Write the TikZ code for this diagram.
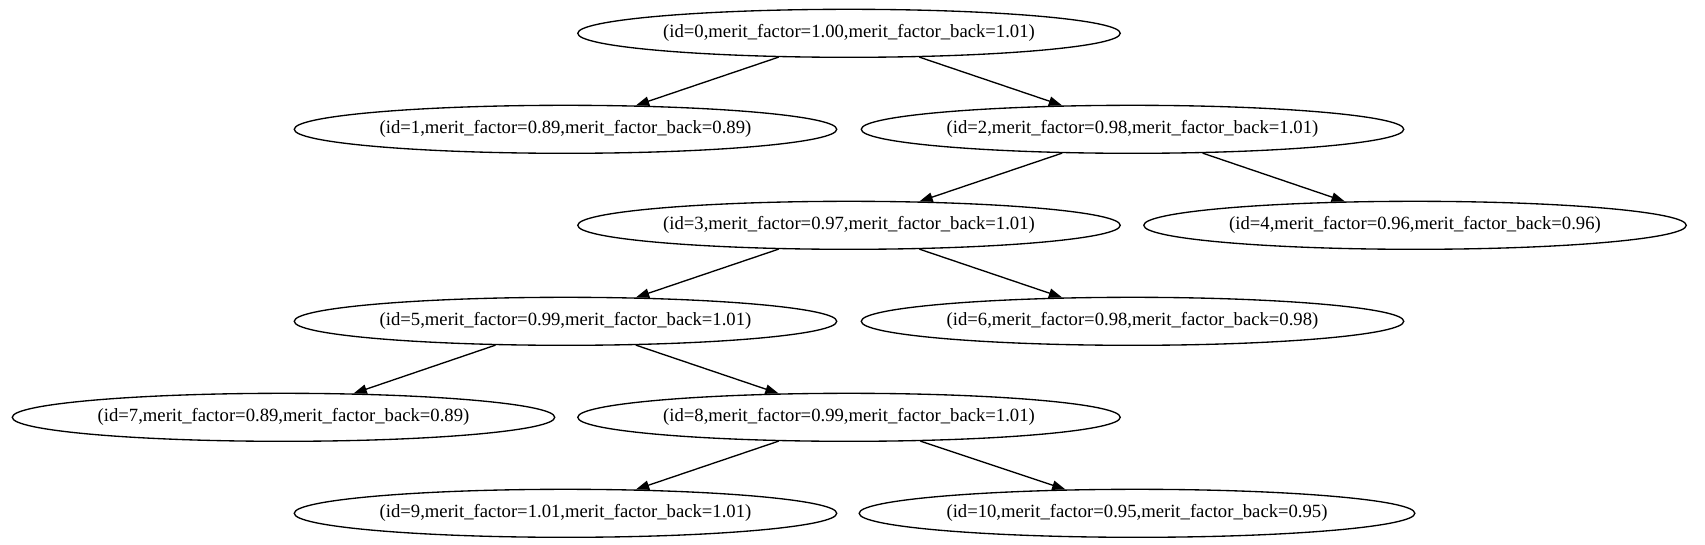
\documentclass[tikz,border=0pt]{standalone}
\usepackage{fontspec}
\setmainfont{Liberation Serif}
\usepackage{tikz}
\usetikzlibrary{shapes}
\usetikzlibrary{arrows.meta}

\begin{document}
\begin{tikzpicture}[x=0.75pt,y=-0.75pt]
			\tikzstyle{state}=[ellipse,draw,line width=1pt,inner xsep=4.5pt,minimum height=36pt,font=\fontsize{14}{16}\selectfont]
			\tikzstyle{edge}=[line width=1pt,-{Triangle[length=10pt,width=7pt]}]
			\useasboundingbox (0,0) rectangle (1705,544);
			
			\node[state] (n0) at (849,33.3) {(id=0,merit\_factor=1.00,merit\_factor\_back=1.01)};
			\node[state] (n1) at (565.5,129.3) {(id=1,merit\_factor=0.89,merit\_factor\_back=0.89)};
			\node[state] (n2) at (1132.5,129.3) {(id=2,merit\_factor=0.98,merit\_factor\_back=1.01)};
			\node[state] (n3) at (849,225.3) {(id=3,merit\_factor=0.97,merit\_factor\_back=1.01)};
			\node[state] (n4) at (1415,225.3) {(id=4,merit\_factor=0.96,merit\_factor\_back=0.96)};
			\node[state] (n5) at (565.5,321.3) {(id=5,merit\_factor=0.99,merit\_factor\_back=1.01)};
			\node[state] (n6) at (1132.5,321.3) {(id=6,merit\_factor=0.98,merit\_factor\_back=0.98)};
			\node[state] (n7) at (283.5,417.3) {(id=7,merit\_factor=0.89,merit\_factor\_back=0.89)};
			\node[state] (n8) at (849,417.3) {(id=8,merit\_factor=0.99,merit\_factor\_back=1.01)};
			\node[state] (n9) at (565.5,513.3) {(id=9,merit\_factor=1.01,merit\_factor\_back=1.01)};
			\node[state] (n10) at (1137,513.3) {(id=10,merit\_factor=0.95,merit\_factor\_back=0.95)};
			
			\draw[edge] (n0) -- (n1);
			\draw[edge] (n0) -- (n2);
			\draw[edge] (n2) -- (n3);
			\draw[edge] (n2) -- (n4);
			\draw[edge] (n3) -- (n5);
			\draw[edge] (n3) -- (n6);
			\draw[edge] (n5) -- (n7);
			\draw[edge] (n5) -- (n8);
			\draw[edge] (n8) -- (n9);
			\draw[edge] (n8) -- (n10);
\end{tikzpicture}
\end{document}
